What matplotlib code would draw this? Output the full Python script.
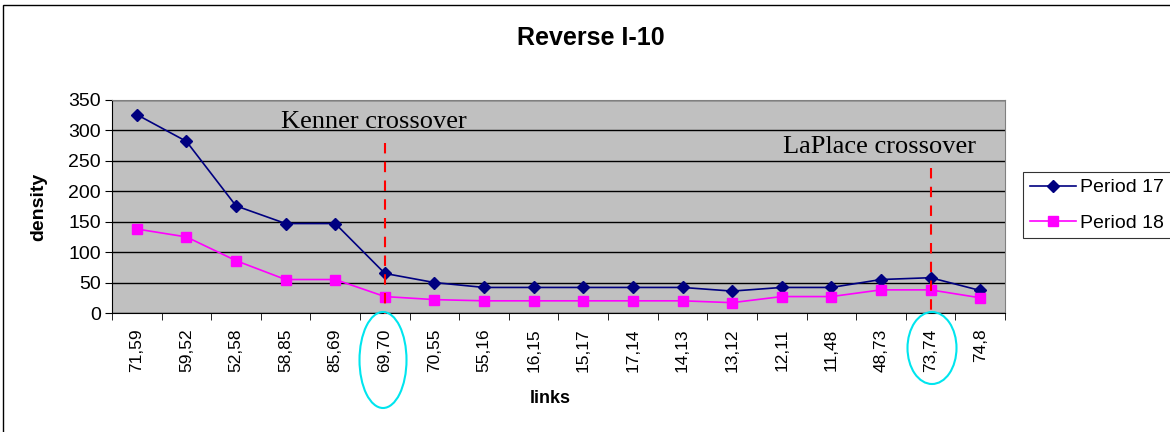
import numpy as np
import matplotlib
matplotlib.use("Agg")
import matplotlib.pyplot as plt
from matplotlib.patches import Ellipse, Rectangle

# data
links = ["71,59", "59,52", "52,58", "58,85", "85,69", "69,70", "70,55", "55,16", "16,15",
         "15,17", "17,14", "14,13", "13,12", "12,11", "11,48", "48,73", "73,74", "74,8"]
period17 = [326, 282, 176, 147, 147, 65, 50, 42, 42, 42, 42, 42, 36, 42, 42, 55, 58, 37]
period18 = [138, 125, 86, 55, 55, 27, 22, 20, 20, 20, 20, 20, 17, 27, 27, 38, 38, 25]
crossovers = ["69,70", "73,74"]
crossover_names = ["Kenner crossover", "LaPlace crossover"]
crossover_tops = [279, 238]

plt.rcParams['font.family'] = ['Liberation Sans', 'DejaVu Sans']

fig = plt.figure(figsize=(11.7, 4.32), dpi=100)
ax = fig.add_axes([112/1170, 1 - 313/432, (1005-112)/1170, (313-100)/432])
ax.set_facecolor("#c0c0c0")

x = np.arange(len(links))
ax.plot(x, period17, color="#000080", marker="D", markersize=6.5, lw=1.2, label="Period 17", zorder=4)
ax.plot(x, period18, color="#ff00ff", marker="s", markersize=6.5, lw=1.2, label="Period 18", zorder=4)

ax.set_xlim(-0.5, len(links) - 0.5)
ax.set_ylim(0, 350)
ax.set_yticks(range(0, 351, 50))
ax.yaxis.grid(True, color="black", lw=1)
ax.set_axisbelow(True)

ax.set_xticks(x)
ax.set_xticklabels(links, rotation=90, fontsize=12.5)
ax.set_xticks(np.arange(-0.5, len(links)), minor=True)
ax.tick_params(axis="x", which="major", length=0, pad=11)
ax.tick_params(axis="x", which="minor", length=5, direction="out", color="black")
ax.tick_params(axis="y", labelsize=14, length=5, direction="out", pad=3)
for s in ["top", "right"]:
    ax.spines[s].set_color("#808080")
for s in ["left", "bottom"]:
    ax.spines[s].set_color("black")

ax.set_xlabel("links", fontsize=13, fontweight="bold")
ax.xaxis.set_label_coords((550 - 112) / 893, (313 - 390) / 213)
ax.set_ylabel("density", fontsize=14, fontweight="bold")
ax.yaxis.set_label_coords((47 - 112) / 893, 0.5)
fig.text(591/1170, 1 - 38/432, "Reverse I-10", fontsize=18, fontweight="bold", ha="center", va="center")

# crossover markers
text_pos = [(4.78, 314), (14.98, 272)]
for name, lab, top, (tx, ty) in zip(crossover_names, crossovers, crossover_tops, text_pos):
    i = links.index(lab)
    ax.plot([i, i], [top, -2], color="red", ls=(0, (5, 4)), lw=1.5, zorder=5, clip_on=False)
    ax.text(tx, ty, name, family=["Liberation Serif"], fontsize=19, ha="center", va="center", zorder=6)

# cyan rings around the crossover tick labels
ell_boxes = [(383, 360, 47, 96), (932, 348, 49, 72)]
for cx, cy, w, h in ell_boxes:
    fig.patches.append(Ellipse((cx/1170, 1 - cy/432), w/1170, h/432, transform=fig.transFigure,
                               fill=False, edgecolor="#00e5ee", lw=1.5))

leg = ax.legend(loc="upper left", bbox_to_anchor=(1023/1170, 1 - 172/432), bbox_transform=fig.transFigure,
                fontsize=14, frameon=True, fancybox=False, edgecolor="black", borderaxespad=0,
                handlelength=2.4, labelspacing=0.9, borderpad=0.35, handletextpad=0.2)
leg.get_frame().set_linewidth(0.8)

# outer chart frame
fig.patches.append(Rectangle((3/1170, -0.1), 1.2, 1 - 5/432 + 0.1, transform=fig.transFigure,
                             fill=False, edgecolor="black", lw=1))

fig.savefig("out.png", dpi=100)
